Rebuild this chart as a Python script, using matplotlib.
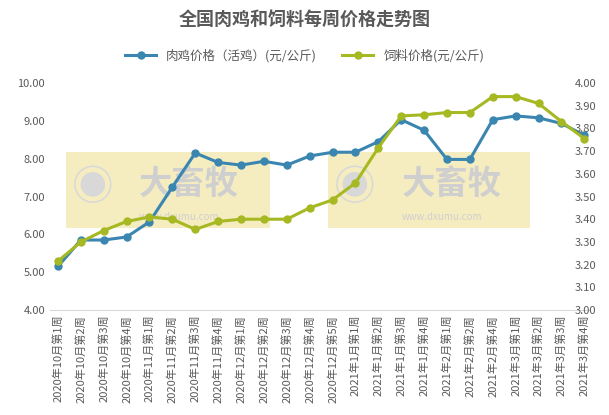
import matplotlib
matplotlib.use("Agg")
import matplotlib.pyplot as plt
from matplotlib.patches import Rectangle

plt.rcParams['font.family'] = ['Noto Sans CJK SC', 'DejaVu Sans']

weeks = ["2020年10月第1周","2020年10月第2周","2020年10月第3周","2020年10月第4周",
         "2020年11月第1周","2020年11月第2周","2020年11月第3周","2020年11月第4周",
         "2020年12月第1周","2020年12月第2周","2020年12月第3周","2020年12月第4周","2020年12月第5周",
         "2021年1月第1周","2021年1月第2周","2021年1月第3周","2021年1月第4周",
         "2021年2月第1周","2021年2月第2周","2021年2月第4周",
         "2021年3月第1周","2021年3月第2周","2021年3月第3周","2021年3月第4周"]
chicken = [5.15,5.85,5.85,5.93,6.33,7.25,8.15,7.90,7.83,7.93,7.83,8.07,8.17,
           8.17,8.45,9.03,8.75,7.98,7.98,9.03,9.13,9.08,8.93,8.62]
feed = [3.215,3.30,3.35,3.39,3.41,3.40,3.355,3.39,3.40,3.40,3.40,3.45,3.485,
        3.56,3.715,3.855,3.86,3.87,3.87,3.94,3.94,3.91,3.83,3.755]

fig = plt.figure(figsize=(6.09,4.15), dpi=100)
ax = fig.add_axes([0.082, 0.253, 0.885, 0.547])
ax2 = ax.twinx()
ax.set_zorder(1); ax2.set_zorder(2)
x = list(range(len(weeks)))

# watermarks
for (x0, x1) in [(0.108, 0.443), (0.539, 0.870)]:
    fig.patches.append(Rectangle((x0, 0.451), x1-x0, 0.183, transform=fig.transFigure,
                                 facecolor='#f5edc0', edgecolor='none', zorder=0))
    fig.text(x0+0.01, 0.545, "◉", fontsize=30, color='#d8d8d8', va='center', zorder=0.5)
    fig.text(x0+0.12, 0.555, "大畜牧", fontsize=24, color='#cfcfcf', fontweight='bold', va='center', zorder=0.5)
    fig.text(x0+0.12, 0.478, "www.dxumu.com", fontsize=7, color='#cfcfcf', va='center', zorder=0.5)

l1, = ax.plot(x, chicken, color='#3a86b0', lw=2.2, marker='o', ms=5, label='肉鸡价格（活鸡）(元/公斤)')
l2, = ax2.plot(x, feed, color='#a6b822', lw=2.2, marker='o', ms=5, label='饲料价格(元/公斤)')

ax.set_ylim(4, 10)
ax.set_yticks([4,5,6,7,8,9,10])
ax.set_yticklabels([f"{v:.2f}" for v in range(4,11)])
ax2.set_ylim(3.0, 4.0)
ax2.set_yticks([3.0+0.1*i for i in range(11)])
ax2.set_yticklabels([f"{3.0+0.1*i:.2f}" for i in range(11)])
ax.set_xlim(-0.35, len(weeks)-0.8)
ax.set_xticks(x)
ax.set_xticklabels(weeks, rotation=90, fontsize=8, color='#595959')
for a in (ax, ax2):
    a.tick_params(length=0, labelsize=8, colors='#595959')
    for s in a.spines.values():
        s.set_visible(False)
ax2.tick_params(axis='y', pad=-10)
ax.spines['bottom'].set_visible(True)
ax.spines['bottom'].set_color('#d9d9d9')
ax.patch.set_alpha(0)
ax2.patch.set_alpha(0)

fig.suptitle("全国肉鸡和饲料每周价格走势图", y=0.975, fontsize=13, fontweight='bold', color='#595959')
fig.legend(handles=[l1, l2], loc='center', bbox_to_anchor=(0.5, 0.865), ncol=2, frameon=False,
           fontsize=9, labelcolor='#595959', handlelength=2.5)
fig.savefig("out.png", dpi=100)
